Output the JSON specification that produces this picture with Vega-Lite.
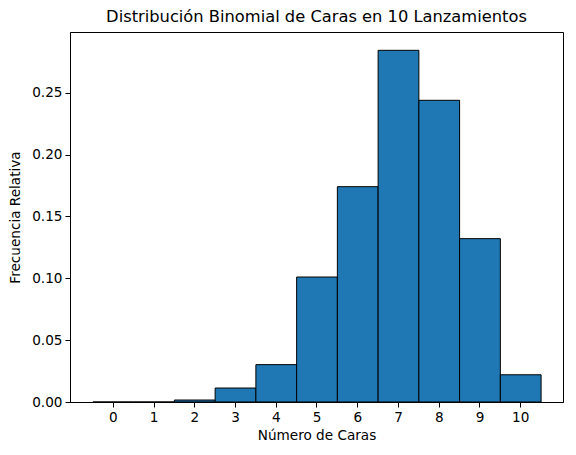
{
  "$schema": "https://vega.github.io/schema/vega-lite/v6.json",
  "autosize": {"type": "none"},
  "padding": {"left": 70, "top": 32, "right": 13, "bottom": 53},
  "width": 493,
  "height": 370,
  "title": {"text": "Distribución Binomial de Caras en 10 Lanzamientos", "fontSize": 16.3, "fontWeight": "normal", "font": "DejaVu Sans", "color": "#000000", "offset": 7},
  "config": {
    "view": {"stroke": "#000000", "strokeWidth": 1},
    "axis": {"labelFont": "DejaVu Sans", "titleFont": "DejaVu Sans", "labelFontSize": 13.6, "titleFontSize": 13.6, "titleFontWeight": "normal", "labelColor": "#000000", "titleColor": "#000000", "domainColor": "#000000", "tickColor": "#000000", "tickSize": 5, "grid": false}
  },
  "data": {"values": [
    {"caras": 0, "frecuencia": 0.0},
    {"caras": 1, "frecuencia": 0.0},
    {"caras": 2, "frecuencia": 0.0016},
    {"caras": 3, "frecuencia": 0.0113},
    {"caras": 4, "frecuencia": 0.0302},
    {"caras": 5, "frecuencia": 0.101},
    {"caras": 6, "frecuencia": 0.174},
    {"caras": 7, "frecuencia": 0.2842},
    {"caras": 8, "frecuencia": 0.2438},
    {"caras": 9, "frecuencia": 0.132},
    {"caras": 10, "frecuencia": 0.022}
  ]},
  "mark": {"type": "bar", "fill": "#1f77b4", "stroke": "#000000", "strokeWidth": 1, "binSpacing": 0},
  "encoding": {
    "x": {
      "field": "caras", "type": "quantitative",
      "bin": {"step": 1, "anchor": -0.5, "extent": [-0.5, 10.5], "nice": false},
      "scale": {"domain": [-1.05, 11.05], "nice": false, "zero": false},
      "axis": {"values": [0, 1, 2, 3, 4, 5, 6, 7, 8, 9, 10], "format": "d", "title": "Número de Caras", "titlePadding": 5, "labelPadding": 3}
    },
    "y": {
      "aggregate": "sum", "field": "frecuencia", "type": "quantitative",
      "scale": {"domain": [0, 0.299], "nice": false},
      "axis": {"values": [0, 0.05, 0.1, 0.15, 0.2, 0.25], "format": ".2f", "title": "Frecuencia Relativa", "titlePadding": 9, "labelPadding": 3}
    }
  }
}
